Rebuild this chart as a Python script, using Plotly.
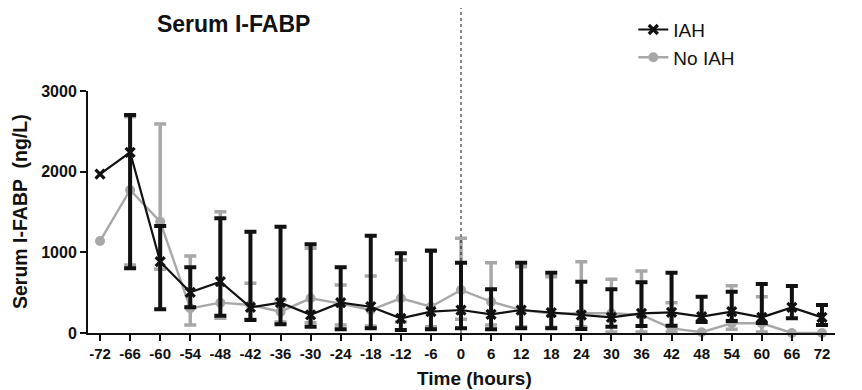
import plotly.graph_objects as go

time_h = [-72, -66, -60, -54, -48, -42, -36, -30, -24, -18, -12, -6, 0,
          6, 12, 18, 24, 30, 36, 42, 48, 54, 60, 66, 72]

iah_mean = [1970, 2240, 884, 504, 636, 318, 376, 225, 376, 326, 182, 264, 285,
            231, 285, 254, 223, 194, 244, 256, 202, 264, 194, 318, 194]
iah_upper = [None, 2702, 1326, 814, 1421, 1256, 1318, 1099, 814, 1206, 988, 1020, 872,
             541, 872, 748, 636, 541, 628, 748, 450, 512, 607, 583, 347]
iah_lower = [None, 802, 293, 318, 215, 161, 107, 79, 45, 58, 37, 45, 58,
             45, 58, 60, 50, 79, 87, 91, 136, 149, 124, 182, 99]

noiah_mean = [1140, 1773, 1380, 306, 376, 347, 264, 430, 364, 285, 430, 326, 533,
              388, 285, 240, 244, 244, 223, 58, 10, 120, 120, 0, 0]
noiah_upper = [None, 2680, 2591, 955, 1504, 616, 409, 1050, 595, 707, 905, 1030, 1174,
               872, 822, 698, 884, 665, 769, 376, None, 587, 450, None, None]
noiah_lower = [None, 843, 789, 99, 182, 169, 136, 127, 99, 87, 136, 79, 169,
               99, 79, 70, 79, 12, 12, 12, None, 45, 12, None, None]


def err_points(mean, upper, lower):
    xs, ys, plus, minus = [], [], [], []
    for t, m, u, l in zip(time_h, mean, upper, lower):
        if u is None:
            continue
        xs.append(t)
        ys.append(m)
        plus.append(u - m)
        minus.append(m - l)
    return xs, ys, plus, minus


BLACK = "#111111"
GRAY = "#a8a8a8"
FONT = "Liberation Sans, Arial, sans-serif"

fig = go.Figure()

# No IAH error bars, then line
gx, gy, gp, gm = err_points(noiah_mean, noiah_upper, noiah_lower)
fig.add_trace(go.Scatter(
    x=gx, y=gy, mode="markers", showlegend=False, hoverinfo="skip",
    marker=dict(size=1, color="rgba(0,0,0,0)"),
    error_y=dict(type="data", symmetric=False, array=gp, arrayminus=gm,
                 color=GRAY, thickness=3.5, width=6),
    cliponaxis=False,
))
fig.add_trace(go.Scatter(
    x=time_h, y=noiah_mean, name="No IAH", mode="lines+markers",
    line=dict(color=GRAY, width=2.4),
    marker=dict(symbol="circle", size=10, color=GRAY),
    cliponaxis=False, legendrank=2,
))

# IAH error bars, then line
bx, by, bp, bm = err_points(iah_mean, iah_upper, iah_lower)
fig.add_trace(go.Scatter(
    x=bx, y=by, mode="markers", showlegend=False, hoverinfo="skip",
    marker=dict(size=1, color="rgba(0,0,0,0)"),
    error_y=dict(type="data", symmetric=False, array=bp, arrayminus=bm,
                 color=BLACK, thickness=4, width=6),
    cliponaxis=False,
))
fig.add_trace(go.Scatter(
    x=time_h, y=iah_mean, name="IAH", mode="lines+markers",
    line=dict(color=BLACK, width=2.2),
    marker=dict(symbol="x-thin", size=9, color=BLACK, line=dict(color=BLACK, width=3.2)),
    cliponaxis=False, legendrank=1,
))

fig.add_shape(type="line", xref="x", yref="paper", x0=0, x1=0, y0=0, y1=1.36,
              line=dict(color=BLACK, width=1, dash="dot"))

fig.add_annotation(text="<b>Time (hours)</b>", xref="paper", yref="paper",
                   x=0.518, y=-0.19, xanchor="center", yanchor="middle", showarrow=False,
                   font=dict(size=19, family=FONT, color=BLACK))
fig.add_annotation(text="<b>Serum I-FABP  (ng/L)</b>", xref="paper", yref="paper",
                   x=-0.091, y=0.5, xanchor="center", yanchor="middle", showarrow=False,
                   textangle=-90, font=dict(size=19.5, family=FONT, color=BLACK))

fig.update_layout(
    width=854, height=382,
    margin=dict(l=80, r=27, t=83, b=57, autoexpand=False),
    paper_bgcolor="white", plot_bgcolor="white",
    font=dict(family=FONT, color=BLACK),
    title=dict(text="<b>Serum I-FABP</b>", font=dict(size=23, family=FONT, color=BLACK),
               x=0.195, xref="paper", xanchor="center", y=0.958, yanchor="middle"),
    showlegend=True,
    legend=dict(x=0.730, y=1.332, xanchor="left", yanchor="top",
                font=dict(size=19, family=FONT, color=BLACK),
                bgcolor="rgba(0,0,0,0)", itemwidth=30, tracegroupgap=0),
    xaxis=dict(range=[-74.4, 74.6], tickmode="array", tickvals=time_h,
               ticktext=[str(t) for t in time_h], automargin=False,
               showgrid=False, zeroline=False, showline=True, linecolor=BLACK, linewidth=2,
               ticks="outside", ticklen=6, tickwidth=2, tickcolor=BLACK,
               tickfont=dict(size=15, family=FONT, color=BLACK, weight="bold")),
    yaxis=dict(range=[0, 3000], tickvals=[0, 1000, 2000, 3000], automargin=False,
               showgrid=False, zeroline=False, showline=True, linecolor=BLACK, linewidth=2,
               ticks="outside", ticklen=6, tickwidth=2, tickcolor=BLACK,
               tickfont=dict(size=16, family=FONT, color=BLACK, weight="bold")),
)

fig.write_html("out.html")
